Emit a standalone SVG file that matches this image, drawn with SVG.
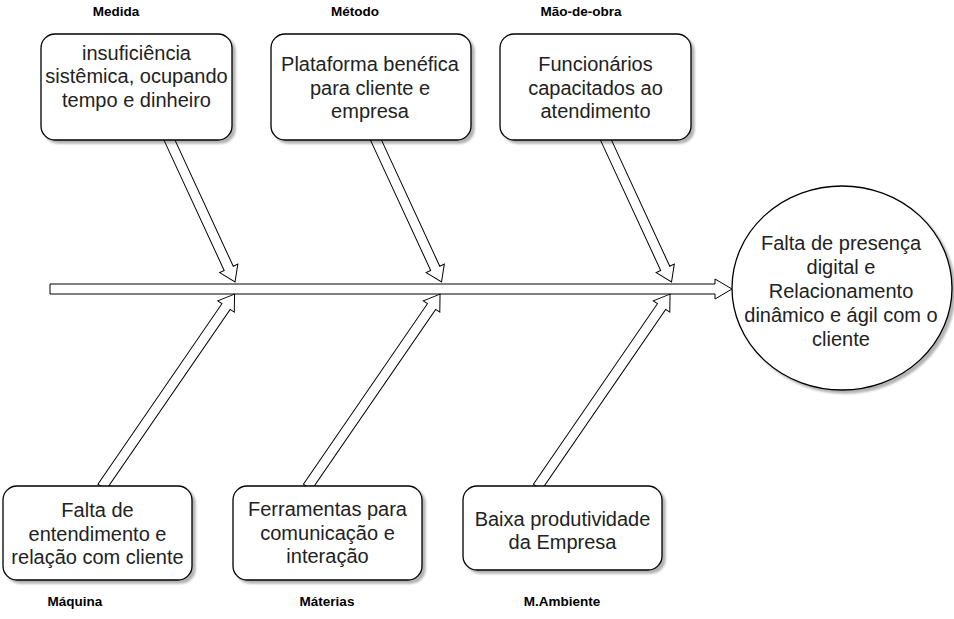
<svg xmlns="http://www.w3.org/2000/svg" width="954" height="619" viewBox="0 0 954 619">
  <defs>
    <filter id="sh" x="-10%" y="-10%" width="130%" height="130%">
      <feDropShadow dx="3" dy="3" stdDeviation="1.2" flood-color="#000" flood-opacity="0.3"/>
    </filter>
  </defs>
  <style>
    .box { fill: #fff; stroke: #000; stroke-width: 1.3; filter: url(#sh); }
    .arrow { fill: #fff; stroke: #000; stroke-width: 1; }
    .t { font-family: "Liberation Sans", Arial, sans-serif; font-size: 20px; fill: #222; text-anchor: middle; }
    .lbl { font-family: "Liberation Sans", Arial, sans-serif; font-size: 13.5px; font-weight: bold; fill: #000; text-anchor: middle; }
  </style>
  <rect width="954" height="619" fill="#fff"/>

  <g id="connectors">
    <!-- spine -->
    <path class="arrow" d="M50,284 L715,284 L715,279 L732,289 L715,299 L715,294 L50,294 Z"/>
    <!-- upper ribs -->
    <path class="arrow" transform="translate(168.5,138) rotate(65.2)" d="M0,-5 L143.6,-5 L143.6,-10 L158.6,0 L143.6,10 L143.6,5 L0,5 Z"/>
    <path class="arrow" transform="translate(375,138) rotate(65.2)" d="M0,-5 L143.6,-5 L143.6,-10 L158.6,0 L143.6,10 L143.6,5 L0,5 Z"/>
    <path class="arrow" transform="translate(605,138) rotate(65.2)" d="M0,-5 L143.6,-5 L143.6,-10 L158.6,0 L143.6,10 L143.6,5 L0,5 Z"/>
    <!-- lower ribs -->
    <path class="arrow" transform="translate(102,487) rotate(-55.5)" d="M0,-5 L219,-5 L219,-10 L234,0 L219,10 L219,5 L0,5 Z"/>
    <path class="arrow" transform="translate(307.5,487) rotate(-55.5)" d="M0,-5 L219,-5 L219,-10 L234,0 L219,10 L219,5 L0,5 Z"/>
    <path class="arrow" transform="translate(537.5,487) rotate(-55.5)" d="M0,-5 L219,-5 L219,-10 L234,0 L219,10 L219,5 L0,5 Z"/>
  </g>

  <g id="label-medida"><text class="lbl" x="116" y="16">Medida</text></g>
  <g id="label-metodo"><text class="lbl" x="355" y="16">Método</text></g>
  <g id="label-maodeobra"><text class="lbl" x="581" y="16">Mão-de-obra</text></g>
  <g id="label-maquina"><text class="lbl" x="75" y="606">Máquina</text></g>
  <g id="label-materias"><text class="lbl" x="327" y="606">Máterias</text></g>
  <g id="label-mambiente"><text class="lbl" x="562" y="606">M.Ambiente</text></g>

  <g id="medida">
    <rect class="box" x="41" y="34" width="191" height="106" rx="14"/>
    <text class="t" x="136.5" y="59.5">insuficiência</text>
    <text class="t" x="136.5" y="83">sistêmica, ocupando</text>
    <text class="t" x="136.5" y="106.5">tempo e dinheiro</text>
  </g>
  <g id="metodo">
    <rect class="box" x="271" y="34" width="200" height="106" rx="14"/>
    <text class="t" x="370" y="71">Plataforma benéfica</text>
    <text class="t" x="370" y="94.5">para cliente e</text>
    <text class="t" x="370" y="118">empresa</text>
  </g>
  <g id="maodeobra">
    <rect class="box" x="500" y="34" width="191" height="106" rx="14"/>
    <text class="t" x="595.5" y="71">Funcionários</text>
    <text class="t" x="595.5" y="94.5">capacitados ao</text>
    <text class="t" x="595.5" y="118">atendimento</text>
  </g>

  <g id="maquina">
    <rect class="box" x="3" y="486" width="189" height="94" rx="14"/>
    <text class="t" x="97.5" y="517">Falta de</text>
    <text class="t" x="97.5" y="540.5">entendimento e</text>
    <text class="t" x="97.5" y="564">relação com cliente</text>
  </g>
  <g id="materias">
    <rect class="box" x="233" y="486" width="189" height="94" rx="14"/>
    <text class="t" x="327.5" y="516">Ferramentas para</text>
    <text class="t" x="327.5" y="539.5">comunicação e</text>
    <text class="t" x="327.5" y="563">interação</text>
  </g>
  <g id="mambiente">
    <rect class="box" x="463" y="486" width="199" height="84" rx="14"/>
    <text class="t" x="562.5" y="525.5">Baixa produtividade</text>
    <text class="t" x="562.5" y="549">da Empresa</text>
  </g>

  <g id="efeito">
    <ellipse class="box" cx="842" cy="288" rx="110" ry="102"/>
    <text class="t" x="841" y="250">Falta de presença</text>
    <text class="t" x="841" y="274">digital e</text>
    <text class="t" x="841" y="298">Relacionamento</text>
    <text class="t" x="841" y="322">dinâmico e ágil com o</text>
    <text class="t" x="841" y="345.5">cliente</text>
  </g>
</svg>
